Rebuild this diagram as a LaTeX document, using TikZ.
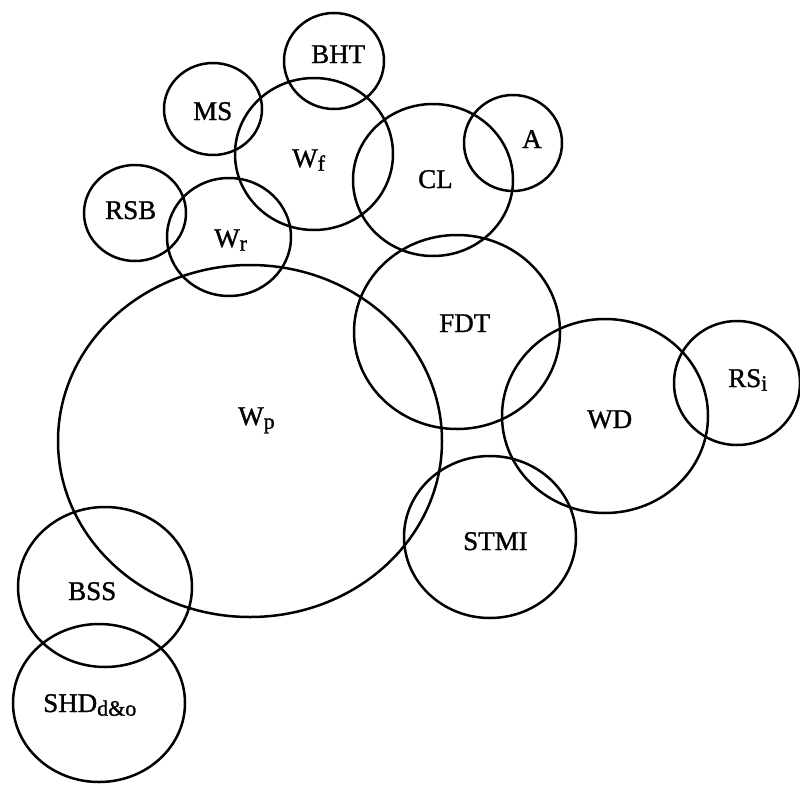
\documentclass[tikz,border=0pt]{standalone}
\usepackage{fontspec}
\setmainfont{Liberation Serif}
\newfontfamily\lblfont[FakeBold=1.2]{Liberation Serif}
\usetikzlibrary{shapes.geometric}
\newcommand{\lowsub}[1]{\raisebox{-0.3ex}{\fontsize{22}{22}\selectfont #1}}
\tikzset{
  ring/.style={draw, ellipse, line width=2.5pt, inner sep=0pt},
  lbl/.style={anchor=base west, inner sep=0pt, font=\lblfont\fontsize{27}{27}\selectfont}
}
\begin{document}
\begin{tikzpicture}[x=1pt,y=-1pt]
\useasboundingbox (0,0) rectangle (800,795);
% circles
\node[ring, minimum width=100pt, minimum height=96pt] (cBHT) at (334,61) {};
\node[ring, minimum width=98pt, minimum height=92pt] (cMS) at (213,109) {};
\node[ring, minimum width=158pt, minimum height=152pt] (cWf) at (314,154) {};
\node[ring, minimum width=160pt, minimum height=152pt] (cCL) at (433,180) {};
\node[ring, minimum width=98pt, minimum height=96pt] (cA) at (513,143) {};
\node[ring, minimum width=102pt, minimum height=96pt] (cRSB) at (135,213) {};
\node[ring, minimum width=124pt, minimum height=118pt] (cWr) at (229,237) {};
\node[ring, minimum width=206pt, minimum height=194pt] (cFDT) at (457,332) {};
\node[ring, minimum width=206pt, minimum height=194pt] (cWD) at (605,416) {};
\node[ring, minimum width=126pt, minimum height=124pt] (cRSi) at (737,383) {};
\node[ring, minimum width=172pt, minimum height=162pt] (cSTMI) at (490,537) {};
\node[ring, minimum width=384pt, minimum height=352pt] (cWp) at (250,441) {};
\node[ring, minimum width=174pt, minimum height=160pt] (cBSS) at (105,587) {};
\node[ring, minimum width=172pt, minimum height=158pt] (cSHD) at (99,703) {};
% labels
\node[lbl] (tBHT) at (311,63) {BHT};
\node[lbl] (tMS) at (193,120) {MS};
\node[lbl] (tWf) at (292,167) {W\lowsub{f}};
\node[lbl] (tCL) at (418,188) {CL};
\node[lbl] (tA) at (522,148) {A};
\node[lbl] (tRSB) at (105,219) {RSB};
\node[lbl] (tWr) at (214,247) {W\lowsub{r}};
\node[lbl] (tFDT) at (439,332) {FDT};
\node[lbl] (tWD) at (587,428) {WD};
\node[lbl] (tRSi) at (728,387) {RS\lowsub{i}};
\node[lbl] (tSTMI) at (463,550) {STMI};
\node[lbl] (tWp) at (238,425) {W\lowsub{p}};
\node[lbl] (tBSS) at (68,600) {BSS};
\node[lbl] (tSHD) at (43,712) {SHD\lowsub{d\&o}};
\end{tikzpicture}
\end{document}
